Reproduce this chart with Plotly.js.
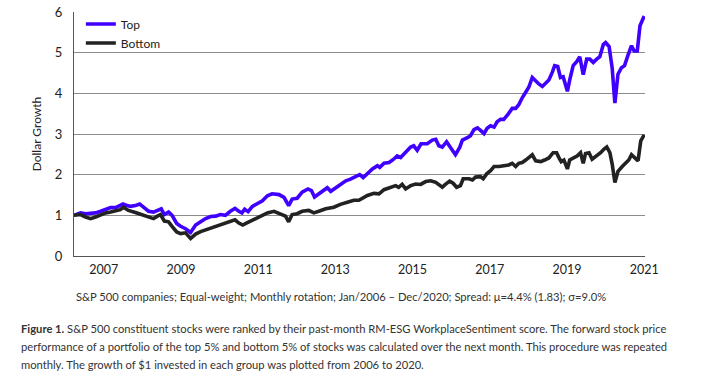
<!DOCTYPE html>
<html>
<head>
<meta charset="utf-8">
<script src="https://cdn.plot.ly/plotly-3.0.1.min.js"></script>
<style>
  html, body { margin: 0; padding: 0; background: #fff; }
  #chart { width: 726px; height: 388px; }
</style>
</head>
<body>
<div id="chart"></div>
<script>
// Decimal-year positions and dollar-growth values
const topYears = [2006.23,2006.40,2006.53,2006.66,2006.79,2006.92,2007.05,2007.18,2007.31,2007.38,2007.50,2007.61,2007.69,2007.82,2007.93,2008.03,2008.16,2008.29,2008.39,2008.49,2008.57,2008.68,2008.77,2008.89,2008.99,2009.12,2009.25,2009.38,2009.51,2009.64,2009.77,2009.90,2010.02,2010.15,2010.28,2010.40,2010.50,2010.58,2010.65,2010.74,2010.85,2010.98,2011.11,2011.24,2011.36,2011.54,2011.67,2011.79,2011.88,2012.01,2012.14,2012.29,2012.38,2012.46,2012.57,2012.70,2012.79,2012.88,2013.01,2013.14,2013.27,2013.39,2013.52,2013.63,2013.72,2013.83,2013.96,2014.09,2014.15,2014.26,2014.39,2014.51,2014.60,2014.69,2014.82,2014.95,2015.03,2015.12,2015.22,2015.38,2015.51,2015.60,2015.68,2015.77,2015.88,2015.98,2016.11,2016.22,2016.29,2016.42,2016.50,2016.59,2016.68,2016.76,2016.85,2016.93,2017.02,2017.11,2017.19,2017.28,2017.36,2017.47,2017.58,2017.67,2017.75,2017.84,2017.93,2018.01,2018.10,2018.19,2018.27,2018.36,2018.44,2018.53,2018.62,2018.68,2018.76,2018.83,2018.90,2019.01,2019.07,2019.16,2019.25,2019.33,2019.42,2019.51,2019.59,2019.68,2019.77,2019.85,2019.94,2020.00,2020.09,2020.17,2020.24,2020.32,2020.41,2020.49,2020.58,2020.67,2020.74,2020.82,2020.89,2021.00];
const topValues = [1.00,1.06,1.04,1.04,1.06,1.10,1.14,1.19,1.19,1.22,1.28,1.24,1.22,1.24,1.28,1.20,1.10,1.08,1.12,1.16,1.02,1.08,1.00,0.80,0.73,0.67,0.58,0.76,0.84,0.92,0.97,0.98,1.02,1.00,1.10,1.17,1.10,1.06,1.15,1.09,1.22,1.28,1.36,1.48,1.53,1.51,1.44,1.24,1.40,1.42,1.57,1.65,1.61,1.45,1.53,1.63,1.68,1.59,1.68,1.77,1.85,1.89,1.95,2.00,1.93,2.03,2.14,2.22,2.18,2.28,2.30,2.38,2.46,2.42,2.54,2.68,2.71,2.60,2.76,2.76,2.85,2.87,2.71,2.68,2.81,2.68,2.49,2.67,2.85,2.91,2.96,3.11,3.15,3.09,3.01,3.14,3.20,3.17,3.30,3.36,3.36,3.48,3.63,3.63,3.72,3.89,4.03,4.15,4.39,4.29,4.23,4.17,4.25,4.33,4.52,4.68,4.66,4.39,4.41,4.05,4.33,4.68,4.78,4.90,4.46,4.84,4.84,4.76,4.84,4.90,5.20,5.25,5.15,4.62,3.76,4.47,4.63,4.68,4.94,5.17,5.04,5.04,5.66,5.90];

const bottomYears = [2006.23,2006.40,2006.53,2006.66,2006.79,2006.92,2007.05,2007.18,2007.31,2007.43,2007.51,2007.64,2007.82,2008.00,2008.16,2008.29,2008.39,2008.47,2008.57,2008.68,2008.77,2008.89,2008.99,2009.12,2009.25,2009.38,2009.51,2009.64,2009.77,2009.90,2010.02,2010.15,2010.28,2010.40,2010.50,2010.60,2010.72,2010.85,2010.98,2011.11,2011.24,2011.41,2011.58,2011.71,2011.79,2011.88,2012.01,2012.14,2012.31,2012.44,2012.57,2012.75,2012.96,2013.13,2013.31,2013.48,2013.61,2013.70,2013.83,2014.00,2014.13,2014.26,2014.43,2014.56,2014.64,2014.73,2014.82,2014.95,2015.08,2015.21,2015.34,2015.47,2015.60,2015.68,2015.77,2015.85,2015.96,2016.05,2016.14,2016.24,2016.31,2016.46,2016.55,2016.63,2016.76,2016.83,2016.92,2017.02,2017.11,2017.24,2017.36,2017.49,2017.58,2017.67,2017.75,2017.84,2017.93,2018.01,2018.10,2018.19,2018.32,2018.42,2018.53,2018.64,2018.73,2018.79,2018.85,2018.92,2019.01,2019.07,2019.18,2019.26,2019.35,2019.42,2019.48,2019.57,2019.65,2019.77,2019.87,2019.96,2020.03,2020.11,2020.17,2020.24,2020.32,2020.43,2020.52,2020.60,2020.67,2020.75,2020.84,2020.91,2021.00];
const bottomValues = [1.00,1.02,0.96,0.92,0.96,1.02,1.06,1.08,1.10,1.14,1.20,1.12,1.07,1.02,0.96,0.92,0.98,1.02,0.86,0.84,0.73,0.59,0.55,0.57,0.43,0.54,0.60,0.64,0.68,0.73,0.77,0.80,0.84,0.89,0.81,0.76,0.82,0.88,0.94,1.02,1.06,1.10,1.04,0.98,0.84,1.02,1.04,1.10,1.12,1.06,1.10,1.16,1.20,1.27,1.32,1.37,1.37,1.43,1.49,1.54,1.53,1.63,1.69,1.73,1.69,1.76,1.65,1.73,1.77,1.76,1.83,1.85,1.81,1.76,1.69,1.76,1.84,1.79,1.69,1.73,1.90,1.90,1.87,1.94,1.95,1.90,2.02,2.10,2.20,2.20,2.22,2.24,2.28,2.20,2.28,2.30,2.36,2.41,2.49,2.34,2.32,2.36,2.41,2.54,2.54,2.42,2.32,2.36,2.14,2.36,2.41,2.46,2.54,2.28,2.52,2.54,2.38,2.46,2.54,2.63,2.68,2.54,2.26,1.81,2.08,2.20,2.28,2.36,2.49,2.41,2.34,2.83,2.98];

const seriesNames = ["Top", "Bottom"];
const xTickYears = [2007, 2009, 2011, 2013, 2015, 2017, 2019, 2021];
const xTickLabels = ["2007", "2009", "2011", "2013", "2015", "2017", "2019", "2021"];
const yTicks = [0, 1, 2, 3, 4, 5, 6];

const subCaption = "S&P 500 companies; Equal-weight; Monthly rotation; Jan/2006 – Dec/2020; Spread: μ=4.4% (1.83); σ=9.0%";
const figureLines = [
  "<b>Figure 1.</b> S&P 500 constituent stocks were ranked by their past-month RM-ESG WorkplaceSentiment score. The forward stock price",
  "performance of a portfolio of the top 5% and bottom 5% of stocks was calculated over the next month. This procedure was repeated",
  "monthly. The growth of $1 invested in each group was plotted from 2006 to 2020."
];

const FONT = "Lato, 'Open Sans', 'Liberation Sans', sans-serif";

const traces = [
  { x: topYears, y: topValues, name: seriesNames[0], type: "scatter", mode: "lines",
    line: { color: "#3f00ff", width: 3.6 } },
  { x: bottomYears, y: bottomValues, name: seriesNames[1], type: "scatter", mode: "lines",
    line: { color: "#222222", width: 3.6 } }
];

const L = 73.5, R = 645, T = 10, B = 256;
const pw = R - L, ph = B - T;
function px2x(p) { return (p - L) / pw; }
function py2y(p) { return (B - p) / ph; }

const annotations = [
  { text: subCaption, xref: "paper", yref: "paper", x: px2x(73), y: py2y(297),
    xanchor: "left", yanchor: "middle", showarrow: false,
    font: { family: FONT, size: 11.2, color: "#333" } }
];
const lineY = [329, 347, 365];
figureLines.forEach((t, i) => annotations.push({
  text: t, xref: "paper", yref: "paper", x: px2x(18), y: py2y(lineY[i]),
  xanchor: "left", yanchor: "middle", showarrow: false,
  font: { family: FONT, size: 11.2, color: "#333" }
}));

const layout = {
  width: 726, height: 388,
  margin: { l: L, r: 726 - R, t: T, b: 388 - B, pad: 0 },
  paper_bgcolor: "#fff", plot_bgcolor: "#fff",
  showlegend: true,
  legend: { x: 0.012, y: 1.01, xanchor: "left", yanchor: "top", bgcolor: "rgba(0,0,0,0)",
    font: { family: FONT, size: 12, color: "#222" }, tracegroupgap: 0, itemwidth: 30 },
  xaxis: {
    range: [2006.23, 2021.02], tickmode: "array", tickvals: xTickYears, ticktext: xTickLabels,
    showgrid: false, zeroline: false, showline: true, linecolor: "#555", linewidth: 1.2,
    ticks: "", ticklabelstandoff: 2, tickfont: { family: FONT, size: 12.5, color: "#222" }, fixedrange: true
  },
  yaxis: {
    range: [0, 6], tickmode: "array", tickvals: yTicks,
    showgrid: true, gridcolor: "#8c8c8c", gridwidth: 1, zeroline: false,
    showline: true, linecolor: "#555", linewidth: 1.2, ticks: "", ticklabelstandoff: 8,
    tickfont: { family: FONT, size: 13, color: "#222" },
    title: { text: "Dollar Growth", font: { family: FONT, size: 12, color: "#222" }, standoff: 10 },
    fixedrange: true
  },
  annotations: annotations
};

Plotly.newPlot("chart", traces, layout, { displayModeBar: false, staticPlot: true });
</script>
</body>
</html>
